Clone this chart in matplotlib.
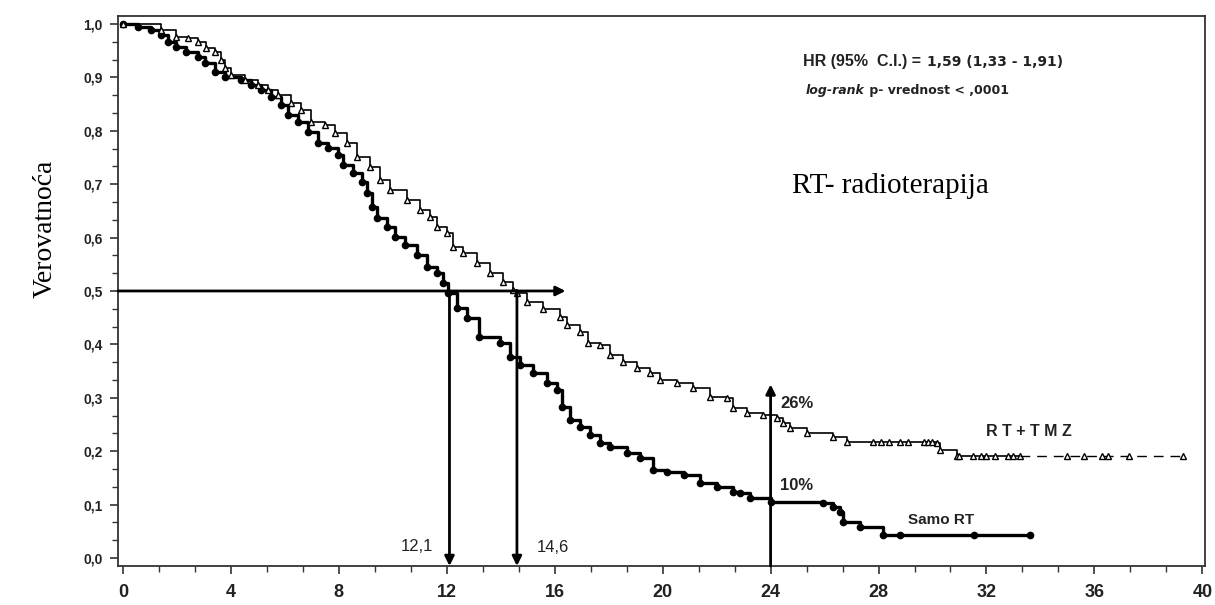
import numpy as np
import matplotlib.pyplot as plt
from matplotlib.ticker import MultipleLocator, FuncFormatter

# Kaplan-Meier steps (months, survival probability)
samo_t = [0, 0.56, 1.04, 1.41, 1.67, 1.97, 2.34, 2.78, 3.04, 3.41, 3.78, 4.38, 4.75,
          5.12, 5.49, 5.86, 6.12, 6.49, 6.86, 7.23, 7.6, 7.97, 8.16, 8.53, 8.86, 9.05,
          9.23, 9.42, 9.79, 10.09, 10.46, 10.9, 11.27, 11.64, 11.87, 12.05, 12.38,
          12.75, 13.2, 13.98, 14.35, 14.72, 15.2, 15.72, 16.09, 16.28, 16.57, 16.94,
          17.32, 17.69, 18.06, 18.69, 19.17, 19.65, 20.17, 20.8, 21.4, 22.02, 22.6,
          22.88, 23.25, 24.0, 25.96, 26.33, 26.59, 26.7, 27.33, 28.18, 28.81, 31.52,
          33.63]
samo_s = [1.0, 0.994, 0.989, 0.979, 0.966, 0.957, 0.947, 0.938, 0.927, 0.910, 0.901,
          0.895, 0.886, 0.876, 0.863, 0.848, 0.830, 0.816, 0.798, 0.777, 0.768, 0.755,
          0.736, 0.721, 0.704, 0.684, 0.657, 0.637, 0.620, 0.601, 0.586, 0.567, 0.545,
          0.534, 0.515, 0.496, 0.468, 0.450, 0.414, 0.403, 0.376, 0.361, 0.346, 0.328,
          0.315, 0.283, 0.258, 0.245, 0.230, 0.215, 0.208, 0.197, 0.187, 0.165, 0.161,
          0.155, 0.140, 0.133, 0.124, 0.122, 0.112, 0.105, 0.103, 0.096, 0.086, 0.067,
          0.058, 0.043, 0.043, 0.043, 0.043]

tmz_t = [0, 1.41, 1.97, 2.41, 2.78, 3.08, 3.41, 3.63, 3.78, 4.0, 4.52, 5.0, 5.38,
         5.75, 6.23, 6.6, 6.97, 7.49, 7.86, 8.31, 8.68, 9.16, 9.53, 9.9, 10.53, 11.01,
         11.38, 11.64, 12.01, 12.24, 12.61, 13.13, 13.61, 14.09, 14.46, 14.61, 14.98,
         15.57, 16.2, 16.46, 16.94, 17.24, 17.69, 18.06, 18.54, 19.06, 19.54, 19.91,
         20.54, 21.13, 21.76, 22.4, 22.62, 23.14, 23.73, 24.25, 24.47, 24.73, 25.36,
         26.33, 26.85, 28.81, 30.18, 30.29, 30.92, 33.26]
tmz_s = [1.0, 0.989, 0.976, 0.973, 0.966, 0.955, 0.947, 0.933, 0.918, 0.904, 0.895,
         0.886, 0.876, 0.867, 0.852, 0.839, 0.816, 0.811, 0.796, 0.777, 0.751, 0.732,
         0.708, 0.689, 0.670, 0.652, 0.639, 0.620, 0.609, 0.582, 0.571, 0.552, 0.534,
         0.517, 0.502, 0.496, 0.479, 0.466, 0.451, 0.436, 0.423, 0.403, 0.399, 0.380,
         0.367, 0.356, 0.346, 0.333, 0.328, 0.318, 0.302, 0.300, 0.281, 0.272, 0.268,
         0.262, 0.253, 0.243, 0.234, 0.227, 0.217, 0.217, 0.215, 0.202, 0.191, 0.191]

# censor marks on the flat part, and the dashed tail of RT+TMZ
tmz_cens_t = [27.8, 28.1, 28.4, 29.1, 29.7, 29.85, 30.0, 31.0, 31.5, 31.8, 32.0,
              32.3, 32.8, 33.0, 35.0, 35.6, 36.3, 36.5, 37.3, 39.3]
tmz_cens_s = [0.217, 0.217, 0.217, 0.217, 0.217, 0.217, 0.217, 0.191, 0.191, 0.191,
              0.191, 0.191, 0.191, 0.191, 0.191, 0.191, 0.191, 0.191, 0.191, 0.191]
tmz_tail_t = [33.26, 39.3]
tmz_tail_s = [0.191, 0.191]

median_samo = 12.1
median_tmz = 14.6
mark_24 = 24

sans = 'Liberation Sans'
serif = 'Liberation Serif'
txt_col = '#222222'

fig = plt.figure(figsize=(12.15, 6.05), dpi=100)
ax = fig.add_axes([0.0971, 0.0645, 0.8947, 0.9091])

# curves
ax.step(samo_t, samo_s, where='post', color='black', lw=2.4)
ax.plot(samo_t, samo_s, 'o', color='black', ms=4.5)
ax.step(tmz_t, tmz_s, where='post', color='black', lw=1.2)
ax.plot(tmz_t, tmz_s, '^', mfc='white', mec='black', ms=4.5, mew=1.0)
ax.plot(tmz_tail_t, tmz_tail_s, color='black', lw=1.0, ls=(0, (7, 5)))
ax.plot(tmz_cens_t, tmz_cens_s, '^', mfc='white', mec='black', ms=4, mew=1.0)

# median / 24-month arrows
arr = dict(arrowstyle='-|>', color='black', lw=2, mutation_scale=14, shrinkA=0, shrinkB=0)
ax.annotate('', xy=(16.4, 0.5), xytext=(-0.185, 0.5), arrowprops=arr)
ax.annotate('', xy=(median_samo, -0.015), xytext=(median_samo, 0.5), arrowprops=arr)
ax.annotate('', xy=(median_tmz, -0.015), xytext=(median_tmz, 0.5), arrowprops=arr)
ax.annotate('', xy=(mark_24, 0.325), xytext=(mark_24, -0.015), arrowprops=arr)

ax.text(11.5, 0.022, '12,1', ha='right', va='center', fontsize=12, family=sans, color=txt_col)
ax.text(15.35, 0.02, '14,6', ha='left', va='center', fontsize=12, family=sans, color=txt_col)
ax.text(24.35, 0.29, '26%', ha='left', va='center', fontsize=12, family=sans, fontweight='bold', color=txt_col)
ax.text(24.35, 0.135, '10%', ha='left', va='center', fontsize=12, family=sans, fontweight='bold', color=txt_col)
ax.text(32.0, 0.236, 'R T + T M Z', ha='left', va='center', fontsize=11.5, family=sans, fontweight='bold', color=txt_col)
ax.text(29.1, 0.071, 'Samo RT', ha='left', va='center', fontsize=11, family=sans, fontweight='bold', color=txt_col)

hr = ax.text(25.2, 0.929, 'HR (95%  C.I.) =', ha='left', va='center', fontsize=11.5, family=sans,
             fontweight='bold', color=txt_col)
ax.annotate('1,59 (1,33 - 1,91)', xy=(1, 0), xycoords=hr, xytext=(4, 0), textcoords='offset points',
            ha='left', va='bottom', fontsize=10, family='DejaVu Sans', fontweight='bold', color=txt_col)
lr = ax.text(25.3, 0.875, 'log-rank', ha='left', va='center', fontsize=9, family='DejaVu Sans',
             fontweight='bold', style='italic', color=txt_col)
ax.annotate(' p- vrednost < ,0001', xy=(1, 0), xycoords=lr, ha='left', va='bottom', fontsize=9,
            family='DejaVu Sans', fontweight='bold', color=txt_col)
ax.text(24.8, 0.683, 'RT- radioterapija', ha='left', va='baseline', fontsize=21, family=serif)

fig.text(0.037, 0.6215, 'Verovatnoća', rotation=90, ha='center', va='center', fontsize=20, family=serif)

ax.set_xlim(-0.185, 40.1)
ax.set_ylim(-0.015, 1.015)
ax.xaxis.set_major_locator(MultipleLocator(4))
ax.xaxis.set_minor_locator(MultipleLocator(4 / 3))
ax.yaxis.set_major_locator(MultipleLocator(0.1))
ax.yaxis.set_minor_locator(MultipleLocator(0.1 / 3))
ax.yaxis.set_major_formatter(FuncFormatter(lambda v, p: f'{abs(v):.1f}'.replace('.', ',')))

for lab in ax.get_xticklabels():
    lab.set_fontfamily(sans)
    lab.set_fontweight('bold')
    lab.set_fontsize(13)
for lab in ax.get_yticklabels():
    lab.set_fontfamily(sans)
    lab.set_fontweight('bold')
    lab.set_fontsize(10)

ax.tick_params(which='major', length=6, width=1.2, color='#333333', labelcolor=txt_col)
ax.tick_params(which='minor', length=4, width=1.0, color='#333333')
ax.tick_params(axis='x', pad=7)
ax.tick_params(axis='y', pad=5)
for s in ax.spines.values():
    s.set_linewidth(1.3)
    s.set_color('#333333')

fig.savefig('out.png', dpi=100)
